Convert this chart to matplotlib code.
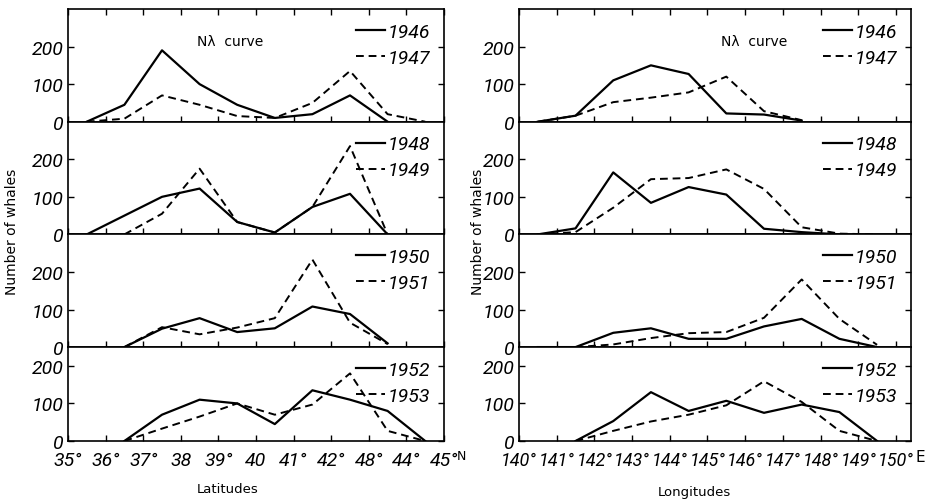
import numpy as np
import matplotlib
matplotlib.use('Agg')
import matplotlib.pyplot as plt

nan = np.nan

# bin centres (degrees)
lat = [35.5, 36.5, 37.5, 38.5, 39.5, 40.5, 41.5, 42.5, 43.5, 44.5]
lon = [140.5, 141.5, 142.5, 143.5, 144.5, 145.5, 146.5, 147.5, 148.5, 149.5]

years = [(1946, 1947), (1948, 1949), (1950, 1951), (1952, 1953)]

# latitudes, number of whales
lat_1946 = [0, 45, 190, 100, 45, 10, 20, 70, 0, nan]
lat_1947 = [0, 8, 70, 45, 15, 10, 50, 135, 20, 0]
lat_1948 = [0, 50, 100, 122, 33, 5, 73, 108, 0, nan]
lat_1949 = [nan, 0, 55, 175, 33, 5, 73, 235, 0, nan]
lat_1950 = [nan, 0, 49, 77, 40, 50, 108, 88, 10, nan]
lat_1951 = [nan, 0, 53, 34, 52, 77, 233, 65, 8, nan]
lat_1952 = [nan, 0, 70, 110, 100, 45, 135, 110, 80, 0]
lat_1953 = [nan, 0, 33, 65, 100, 70, 97, 180, 27, 0]

# longitudes, number of whales
lon_1946 = [0, 16, 110, 150, 127, 22, 19, 3, nan, nan]
lon_1947 = [0, 16, 52, 64, 78, 120, 28, 4, nan, nan]
lon_1948 = [0, 16, 165, 84, 126, 106, 15, 6, 0, nan]
lon_1949 = [0, 6, 71, 147, 150, 173, 121, 19, 2, 0]
lon_1950 = [0, 0, 38, 50, 22, 22, 55, 75, 22, 0]
lon_1951 = [nan, 0, 7, 24, 37, 40, 78, 180, 75, 6]
lon_1952 = [nan, 0, 53, 130, 80, 107, 75, 97, 77, 0]
lon_1953 = [nan, 0, 27, 52, 70, 95, 159, 104, 27, 0]

lat_series = [(lat_1946, lat_1947), (lat_1948, lat_1949),
              (lat_1950, lat_1951), (lat_1952, lat_1953)]
lon_series = [(lon_1946, lon_1947), (lon_1948, lon_1949),
              (lon_1950, lon_1951), (lon_1952, lon_1953)]

lat_ticks = [35, 36, 37, 38, 39, 40, 41, 42, 43, 44, 45]
lat_labels = ['35°', '36°', '37°', '38', '39°', '40', '41°', '42°', '48°', '44°', '45°']
lon_ticks = [140, 141, 142, 143, 144, 145, 146, 147, 148, 149, 150]
lon_labels = ['140°', '141°', '142°', '143°', '144°', '145°', '146°', '147°', '148°', '149°', '150°']

ymax = [300, 300, 300, 250]

hand = ['Roboto', 'DejaVu Sans']

W, H = 932, 502
fig = plt.figure(figsize=(W / 100, H / 100), dpi=100)

top_px, bot_px = 10, 442
scale = (bot_px - top_px) / sum(ymax)


def make_column(x0, x1, xlim, xs, series, ticks, labels, xfs, unit, ufs, ux, title_x):
    y = top_px
    for i, (ym, (a, b)) in enumerate(zip(ymax, series)):
        h = ym * scale
        ax = fig.add_axes([x0 / W, 1 - (y + h) / H, (x1 - x0) / W, h / H])
        y += h
        ax.plot(xs, a, color='black', lw=1.6, label=str(years[i][0]))
        ax.plot(xs, b, color='black', lw=1.4, ls=(0, (4, 2.5)), label=str(years[i][1]))
        ax.set_xlim(*xlim)
        ax.set_ylim(0, ym)
        ax.set_yticks([0, 100, 200])
        ax.set_yticklabels(['0', '100', '200'], family=hand, style='italic', fontsize=14)
        ax.set_xticks(ticks)
        ax.tick_params(axis='both', direction='in', length=4, width=1, pad=3,
                       right=True, top=(i == 0))
        ax.tick_params(axis='x', pad=7)
        for s in ax.spines.values():
            s.set_linewidth(1.2)
        if i < 3:
            ax.set_xticklabels([])
        else:
            ax.set_xticklabels(labels, family=hand, style='italic', fontsize=xfs)
            ax.text(ux, -0.08, unit, transform=ax.transAxes, fontsize=ufs,
                    ha='left', va='top')
        ax.legend(loc='upper right', frameon=False, handlelength=1.5,
                  handletextpad=0.15, labelspacing=0.42, borderaxespad=0.4,
                  borderpad=0.3, prop={'family': hand, 'style': 'italic', 'size': 14})
        if i == 0:
            ax.text(title_x, 0.72, 'Nλ  curve', transform=ax.transAxes,
                    fontsize=10, ha='center', va='center')


make_column(68, 444, (35, 45), lat, lat_series, lat_ticks, lat_labels, 14, 'N', 9, 1.035, 0.43)
make_column(519, 911, (140, 150.4), lon, lon_series, lon_ticks, lon_labels, 13, 'E', 11, 1.012, 0.6)

fig.text(12 / W, 1 - 232 / H, 'Number of whales', rotation=90, fontsize=10,
         ha='center', va='center')
fig.text(478 / W, 1 - 232 / H, 'Number of whales', rotation=90, fontsize=10,
         ha='center', va='center')
fig.text(228 / W, 1 - 490 / H, 'Latitudes', fontsize=9.5, ha='center', va='center')
fig.text(694 / W, 1 - 493 / H, 'Longitudes', fontsize=9.5, ha='center', va='center')

fig.savefig('out.png', dpi=100)
